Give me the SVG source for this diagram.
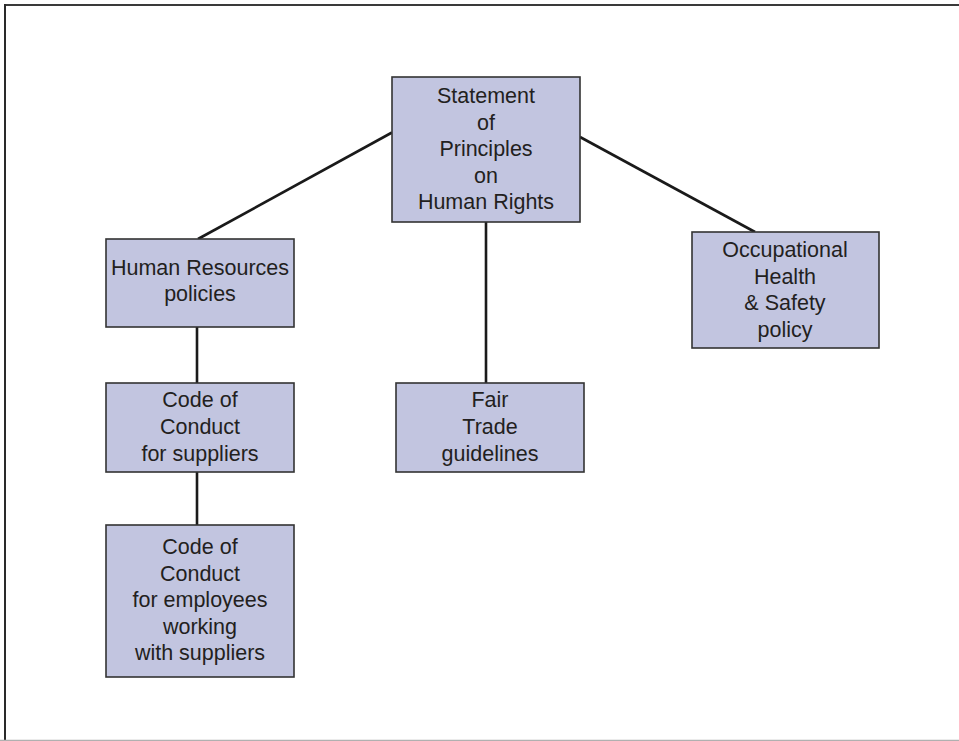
<svg xmlns="http://www.w3.org/2000/svg" width="959" height="741" viewBox="0 0 959 741">
  <style>
    .box { fill: #c2c5e0; stroke: #333333; stroke-width: 1.6; }
    .lbl { font-family: "Liberation Sans", Arial, sans-serif; font-size: 21.5px; fill: #231f20; text-anchor: middle; }
    .link { stroke: #1a1a1a; stroke-width: 2.6; fill: none; }
  </style>
  <rect width="959" height="741" fill="#ffffff"/>
  <!-- page frame -->
  <g id="frame">
    <line x1="5" y1="5" x2="959" y2="5" stroke="#3a3a3a" stroke-width="2"/>
    <line x1="5" y1="4" x2="5" y2="741" stroke="#2a2a2a" stroke-width="2"/>
    <line x1="0" y1="740.5" x2="959" y2="740.5" stroke="#b0b0b0" stroke-width="1.5"/>
  </g>
  <!-- connectors -->
  <g id="connectors">
    <line class="link" x1="392" y1="132.5" x2="198" y2="239"/>
    <line class="link" x1="580" y1="137" x2="755" y2="232"/>
    <line class="link" x1="486" y1="222" x2="486" y2="383"/>
    <line class="link" x1="197" y1="327" x2="197" y2="383"/>
    <line class="link" x1="197" y1="472" x2="197" y2="525"/>
  </g>
  <g id="statement">
    <rect class="box" x="392" y="77" width="188" height="145"/>
    <text class="lbl" x="486" y="103">Statement</text>
    <text class="lbl" x="486" y="129.5">of</text>
    <text class="lbl" x="486" y="156">Principles</text>
    <text class="lbl" x="486" y="182.5">on</text>
    <text class="lbl" x="486" y="209">Human Rights</text>
  </g>
  <g id="hr-policies">
    <rect class="box" x="106" y="239" width="188" height="88"/>
    <text class="lbl" x="200" y="275">Human Resources</text>
    <text class="lbl" x="200" y="301">policies</text>
  </g>
  <g id="ohs-policy">
    <rect class="box" x="692" y="232" width="187" height="116"/>
    <text class="lbl" x="785" y="257">Occupational</text>
    <text class="lbl" x="785" y="283.5">Health</text>
    <text class="lbl" x="785" y="310">&amp; Safety</text>
    <text class="lbl" x="785" y="336.5">policy</text>
  </g>
  <g id="code-suppliers">
    <rect class="box" x="106" y="383" width="188" height="89"/>
    <text class="lbl" x="200" y="407">Code of</text>
    <text class="lbl" x="200" y="434">Conduct</text>
    <text class="lbl" x="200" y="461">for suppliers</text>
  </g>
  <g id="fair-trade">
    <rect class="box" x="396" y="383" width="188" height="89"/>
    <text class="lbl" x="490" y="407">Fair</text>
    <text class="lbl" x="490" y="434">Trade</text>
    <text class="lbl" x="490" y="461">guidelines</text>
  </g>
  <g id="code-employees">
    <rect class="box" x="106" y="525" width="188" height="152"/>
    <text class="lbl" x="200" y="554">Code of</text>
    <text class="lbl" x="200" y="580.5">Conduct</text>
    <text class="lbl" x="200" y="607">for employees</text>
    <text class="lbl" x="200" y="633.5">working</text>
    <text class="lbl" x="200" y="660">with suppliers</text>
  </g>
</svg>
